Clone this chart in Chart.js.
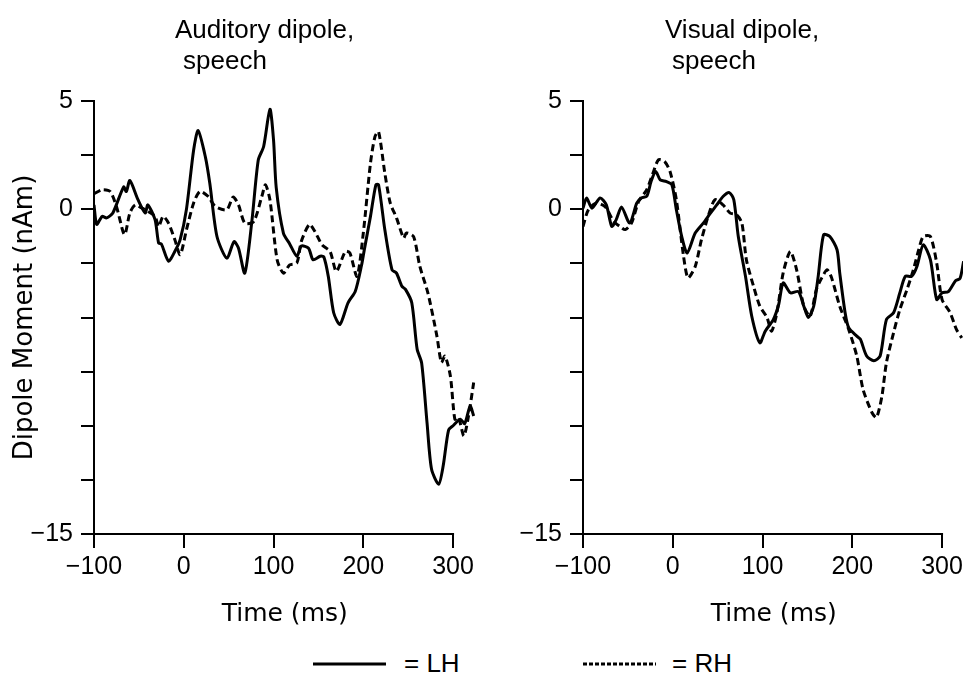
<!DOCTYPE html>
<html>
<head>
<meta charset="utf-8">
<script src="https://cdn.jsdelivr.net/npm/chart.js@4"></script>
<style>
  html, body { margin: 0; padding: 0; background: #fff; }
  body { width: 963px; height: 677px; overflow: hidden; position: relative;
         font-family: "Liberation Sans", sans-serif; color: #000; }
  canvas { position: absolute; top: 0; }
  .txt { position: absolute; font-size: 26px; line-height: 31px; white-space: nowrap; }
  .key { position: absolute; top: 650px; height: 30px; }
</style>
</head>
<body>
<canvas id="auditory" width="490" height="640" style="left:0px"></canvas>
<canvas id="visual" width="490" height="640" style="left:489px"></canvas>

<div class="txt" style="left:175px;top:14px">Auditory dipole,</div>
<div class="txt" style="left:183px;top:45px">speech</div>
<div class="txt" style="left:665px;top:14px">Visual dipole,</div>
<div class="txt" style="left:672px;top:45px">speech</div>

<svg class="key" style="left:313px" width="75" height="30"><line x1="0" y1="14" x2="73" y2="14" stroke="#000" stroke-width="3"/></svg>
<div class="txt" style="left:404px;top:648px">= LH</div>
<svg class="key" style="left:583px" width="75" height="30"><line x1="0" y1="14" x2="73" y2="14" stroke="#000" stroke-width="3" stroke-dasharray="4 2"/></svg>
<div class="txt" style="left:672px;top:648px">= RH</div>

<script>
// time axis (ms) and dipole moment (nAm)
const xTicks = [-100, 0, 100, 200, 300];
const yLabelled = [-15, 0, 5];

// Auditory dipole, speech
const audTimeLH = [-100, -97, -91, -86, -79, -67, -64, -60, -51, -43, -40, -32, -28, -25, -17, -10, -4, 3, 11, 16, 24, 29, 37, 48, 56, 61, 68, 76, 83, 89, 96, 100, 103, 111, 118, 126, 131, 139, 144, 152, 156, 161, 167, 174, 183, 191, 198, 201, 208, 214, 217, 224, 232, 237, 243, 247, 254, 260, 265, 271, 276, 284, 289, 295, 300, 308, 313, 319, 323];
const audLH = [0.2, -0.7, -0.33, -0.4, -0.17, 1.03, 0.82, 1.33, 0.44, -0.17, 0.2, -0.48, -1.56, -1.6, -2.4, -1.95, -1.4, 0.0, 2.74, 3.63, 2.43, 1.2, -1.26, -2.26, -1.5, -1.8, -2.95, -0.5, 2.27, 2.9, 4.62, 3.2, 1.0, -1.1, -1.6, -2.17, -1.7, -1.8, -2.33, -2.17, -2.2, -3.1, -4.78, -5.32, -4.32, -3.8, -2.6, -1.9, -0.33, 1.13, 1.13, -0.95, -2.8, -2.95, -3.56, -3.7, -4.32, -6.47, -7.1, -9.86, -12.0, -12.7, -11.85, -10.2, -10.0, -9.7, -9.9, -9.1, -9.55];
const audTimeRH = [-100, -91, -82, -75, -66, -60, -54, -47, -40, -32, -28, -23, -17, -10, -4, 3, 11, 18, 27, 35, 48, 55, 61, 68, 78, 87, 91, 96, 104, 111, 118, 126, 131, 140, 146, 154, 163, 170, 180, 185, 193, 200, 208, 213, 217, 224, 230, 237, 245, 248, 256, 263, 272, 282, 287, 291, 297, 302, 306, 312, 317, 323];
const audRH = [0.71, 0.9, 0.82, 0.13, -1.17, -0.17, 0.2, 0.06, -0.1, -0.33, -0.8, -0.33, -0.64, -1.4, -2.1, -0.95, 0.29, 0.82, 0.6, 0.13, -0.02, 0.56, 0.2, -0.64, -0.56, 0.6, 1.13, 0.44, -2.33, -2.95, -2.57, -2.48, -1.48, -0.7, -1.02, -1.64, -1.95, -2.87, -1.95, -2.02, -3.1, -1.1, 2.13, 3.36, 3.59, 1.67, 0.29, -0.4, -1.33, -1.1, -1.26, -2.64, -3.87, -5.86, -7.08, -6.78, -7.7, -9.7, -9.6, -10.47, -9.6, -8.0];

// Visual dipole, speech
const visTimeLH = [-100, -96, -90, -81, -74, -68, -63, -57, -48, -40, -35, -29, -24, -19, -14, -7, -1, 4, 10, 16, 25, 34, 42, 49, 56, 63, 68, 73, 81, 88, 97, 103, 112, 118, 123, 131, 140, 146, 151, 157, 162, 168, 175, 183, 186, 192, 196, 205, 209, 216, 224, 231, 238, 246, 253, 259, 266, 272, 279, 287, 294, 300, 307, 315, 320, 324];
const visLH = [0.05, 0.52, 0.05, 0.52, 0.2, -0.79, -0.48, 0.1, -0.64, 0.29, 0.52, 0.6, 1.3, 1.74, 1.36, 1.28, 1.13, -0.02, -1.26, -2.02, -1.1, -0.64, -0.18, 0.2, 0.59, 0.77, 0.44, -1.26, -3.1, -4.94, -6.17, -5.63, -5.1, -4.4, -3.4, -3.86, -3.8, -4.48, -5.0, -4.48, -3.1, -1.18, -1.26, -1.87, -2.94, -4.78, -5.47, -5.86, -6.0, -6.78, -7.0, -6.78, -5.1, -4.78, -3.86, -3.1, -3.1, -2.64, -1.64, -2.33, -4.17, -3.86, -3.8, -3.3, -3.2, -2.4];
const visTimeRH = [-100, -94, -85, -75, -66, -59, -53, -46, -38, -29, -22, -16, -9, -3, 4, 12, 17, 25, 32, 40, 47, 56, 64, 71, 77, 82, 90, 97, 105, 110, 116, 123, 131, 138, 146, 153, 160, 166, 172, 177, 186, 196, 205, 212, 222, 227, 233, 238, 246, 253, 261, 268, 274, 279, 287, 294, 300, 309, 316, 322];
const visRH = [-0.8, -0.02, 0.29, 0.1, -0.56, -0.79, -0.94, -0.64, 0.36, 0.9, 1.67, 2.28, 2.2, 1.74, 0.44, -2.17, -3.17, -2.64, -1.4, -0.25, 0.44, 0.2, -0.18, -0.25, -0.64, -2.33, -3.56, -4.48, -5.0, -5.63, -4.78, -2.94, -1.95, -2.8, -4.48, -4.94, -3.7, -3.17, -2.8, -3.17, -4.48, -5.55, -6.78, -8.32, -9.4, -9.62, -8.63, -7.09, -5.7, -4.63, -3.7, -2.8, -1.87, -1.26, -1.26, -2.48, -4.17, -4.78, -5.55, -5.94];

const FONT = "'Liberation Sans', sans-serif";
const TITLE_FONT = "'DejaVu Sans', sans-serif";
Chart.defaults.font.family = FONT;
Chart.defaults.font.size = 25;
Chart.defaults.color = "#000";

function pairs(times, values) {
  return times.map((t, i) => ({ x: t, y: values[i] }));
}

// the time axis line stops at the last labelled tick, the traces run on past it
const xAxisLine = {
  id: "xAxisLine",
  afterDraw(chart) {
    const { ctx, scales: { x, y } } = chart;
    const yy = y.getPixelForValue(-15);
    ctx.save();
    ctx.strokeStyle = "#000";
    ctx.lineWidth = 2;
    ctx.beginPath();
    ctx.moveTo(x.getPixelForValue(xTicks[0]) - 1, yy);
    ctx.lineTo(x.getPixelForValue(xTicks[xTicks.length - 1]) + 1, yy);
    ctx.stroke();
    ctx.restore();
  },
};

function makeChart(id, lhT, lh, rhT, rh, showYTitle) {
  const ctx = document.getElementById(id).getContext("2d");
  return new Chart(ctx, {
    type: "line",
    data: {
      datasets: [
        {
          label: "LH",
          data: pairs(lhT, lh),
          borderColor: "#000",
          borderWidth: 3,
          pointRadius: 0,
          tension: 0.25,
        },
        {
          label: "RH",
          data: pairs(rhT, rh),
          borderColor: "#000",
          borderWidth: 3,
          borderDash: [7, 4],
          pointRadius: 0,
          tension: 0.25,
        },
      ],
    },
    options: {
      responsive: false,
      animation: false,
      layout: { padding: { top: 101, right: 14.5, left: 0, bottom: 0 } },
      plugins: { legend: { display: false }, title: { display: false }, tooltip: { enabled: false } },
      scales: {
        x: {
          type: "linear",
          min: -100,
          max: 325,
          afterFit: (s) => { s.height = 106; },
          border: { display: false },
          grid: { drawOnChartArea: false, color: "#000", lineWidth: 2, tickLength: 14 },
          ticks: {
            stepSize: 100,
            includeBounds: false,
            padding: 4,
            maxRotation: 0,
            callback: (v) => (v < 0 ? "\u2212" + Math.abs(v) : String(v)),
          },
          title: {
            display: true,
            text: "Time (ms)",
            font: { family: TITLE_FONT, size: 25 },
            padding: { top: 0, bottom: 11 },
          },
        },
        y: {
          min: -15,
          max: 5,
          afterFit: (s) => { s.width = 94; },
          border: { display: true, color: "#000", width: 2 },
          grid: { drawOnChartArea: false, color: "#000", lineWidth: 2, tickLength: 13 },
          ticks: {
            stepSize: 2.5,
            padding: 8,
            callback: (v) => (yLabelled.includes(v) ? (v < 0 ? "\u2212" + Math.abs(v) : String(v)) : ""),
          },
          title: {
            display: showYTitle,
            text: "Dipole Moment (nAm)",
            font: { family: TITLE_FONT, size: 26 },
            padding: { top: 10, bottom: 0 },
          },
        },
      },
    },
    plugins: [xAxisLine],
  });
}

makeChart("auditory", audTimeLH, audLH, audTimeRH, audRH, true);
makeChart("visual", visTimeLH, visLH, visTimeRH, visRH, false);
</script>
</body>
</html>
